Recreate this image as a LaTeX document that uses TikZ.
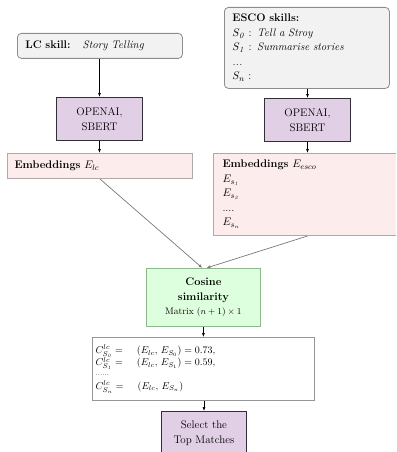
\documentclass[tikz,border=0pt]{standalone}
\usetikzlibrary{arrows.meta}
\definecolor{grayfill}{RGB}{242,242,242}
\definecolor{grayline}{RGB}{140,140,140}
\definecolor{purplefill}{RGB}{225,207,230}
\definecolor{purpleline}{RGB}{50,45,55}
\definecolor{pinkfill}{RGB}{253,236,236}
\definecolor{pinkline}{RGB}{175,170,170}
\definecolor{greenfill}{RGB}{221,255,221}
\definecolor{greenline}{RGB}{140,185,140}
\definecolor{resline}{RGB}{150,150,150}
\definecolor{diagline}{RGB}{120,120,120}
\begin{document}
\begin{tikzpicture}[x=1pt,y=-1pt,
  every node/.style={font=\fontsize{11}{14.5}\selectfont, inner ysep=3pt},
  inputbox/.style={draw=grayline, fill=grayfill, rounded corners=4pt, line width=0.8pt,
    anchor=north west, inner xsep=8pt, align=left},
  modelbox/.style={draw=purpleline, fill=purplefill, line width=1pt, anchor=north west,
    minimum width=86pt, minimum height=43pt, align=center},
  embbox/.style={draw=pinkline, fill=pinkfill, line width=1pt, anchor=north west, align=left},
  simbox/.style={draw=greenline, fill=greenfill, line width=0.8pt, anchor=north west,
    minimum width=114pt, minimum height=58pt, align=center},
  resbox/.style={draw=resline, fill=white, line width=1.2pt, anchor=north west, align=left},
  flow/.style={-{Latex[length=4pt,width=3pt]}, line width=0.6pt, black},
  merge/.style={-{Latex[length=4pt,width=3pt]}, line width=0.7pt, diagline}]
\useasboundingbox (0,0) rectangle (396,452);
\clip (0,0) rectangle (396,452);

% inputs
\node[inputbox, minimum width=165pt, minimum height=25pt, text width=149pt] (lc) at (17,33)
  {\textbf{LC skill:}\hspace{1.1em}\textit{Story Telling}};
\node[inputbox, minimum width=165pt, minimum height=81pt, text width=149pt] (esco) at (224,7)
  {\textbf{ESCO skills:}\\
   $S_{\mathit{0}}$ : \textit{Tell a Stroy}\\
   $S_{\mathit{1}}$ : \textit{Summarise stories}\\
   \textit{...}\\
   $S_n$ :};

% embedding models
\node[modelbox] (m1) at (56,97) {OPENAI,\\SBERT};
\node[modelbox] (m2) at (264,98) {OPENAI,\\SBERT};

% embeddings
\node[embbox, minimum width=185pt, minimum height=25pt, inner xsep=7pt, text width=171pt] (e1) at (7,153)
  {\textbf{Embeddings} $E_{lc}$};
\node[embbox, minimum width=190pt, minimum height=82pt, inner xsep=9pt, text width=172pt] (e2) at (213,153)
  {\textbf{Embeddings} $E_{esco}$\\
   $E_{s_{\mathit{1}}}$\\
   $E_{s_{\mathit{2}}}$\\
   ....\\
   $E_{s_n}$};

% similarity
\node[simbox] (cs) at (146,268)
  {\textbf{Cosine}\\\textbf{similarity}\\{\fontsize{9.5}{12}\selectfont Matrix $(n+1)\times 1$}};

% scores
\node[resbox, minimum width=222pt, minimum height=63pt, inner xsep=3pt, text width=216pt] (res) at (92,337)
  {\fontsize{10}{11}\selectfont
   $C^{lc}_{S_{\mathit{0}}} =$\hspace{1.4em}$(E_{lc},\, E_{S_0}) = 0.73,$\\[-1pt]
   $C^{lc}_{S_{\mathit{1}}} =$\hspace{1.4em}$(E_{lc},\, E_{S_1}) = 0.59,$\\[-1pt]
   {\scriptsize ......}\\[-1pt]
   $C^{lc}_{S_n} =$\hspace{1.4em}$(E_{lc},\, E_{S_n})$};

% selection
\node[modelbox, minimum width=85pt] (sel) at (161,411) {Select the\\Top Matches};

% connectors
\draw[flow] (lc.south -| m1.north) -- (m1.north);
\draw[flow] (esco.south -| m2.north) -- (m2.north);
\draw[flow] (m1.south) -- (m1.south |- e1.north);
\draw[flow] (m2.south) -- (m2.south |- e2.north);
\coordinate (e2out) at (m2.south |- e2.south);
\coordinate (csinL) at ([xshift=-1pt]cs.north);
\coordinate (csinR) at ([xshift=3pt]cs.north);
\draw[merge] (e1.south) -- (csinL);
\draw[merge] (e2out) -- (csinR);
\draw[flow] (cs.south) -- (cs.south |- res.north);
\draw[flow] (res.south -| sel.north) -- (sel.north);
\end{tikzpicture}
\end{document}
